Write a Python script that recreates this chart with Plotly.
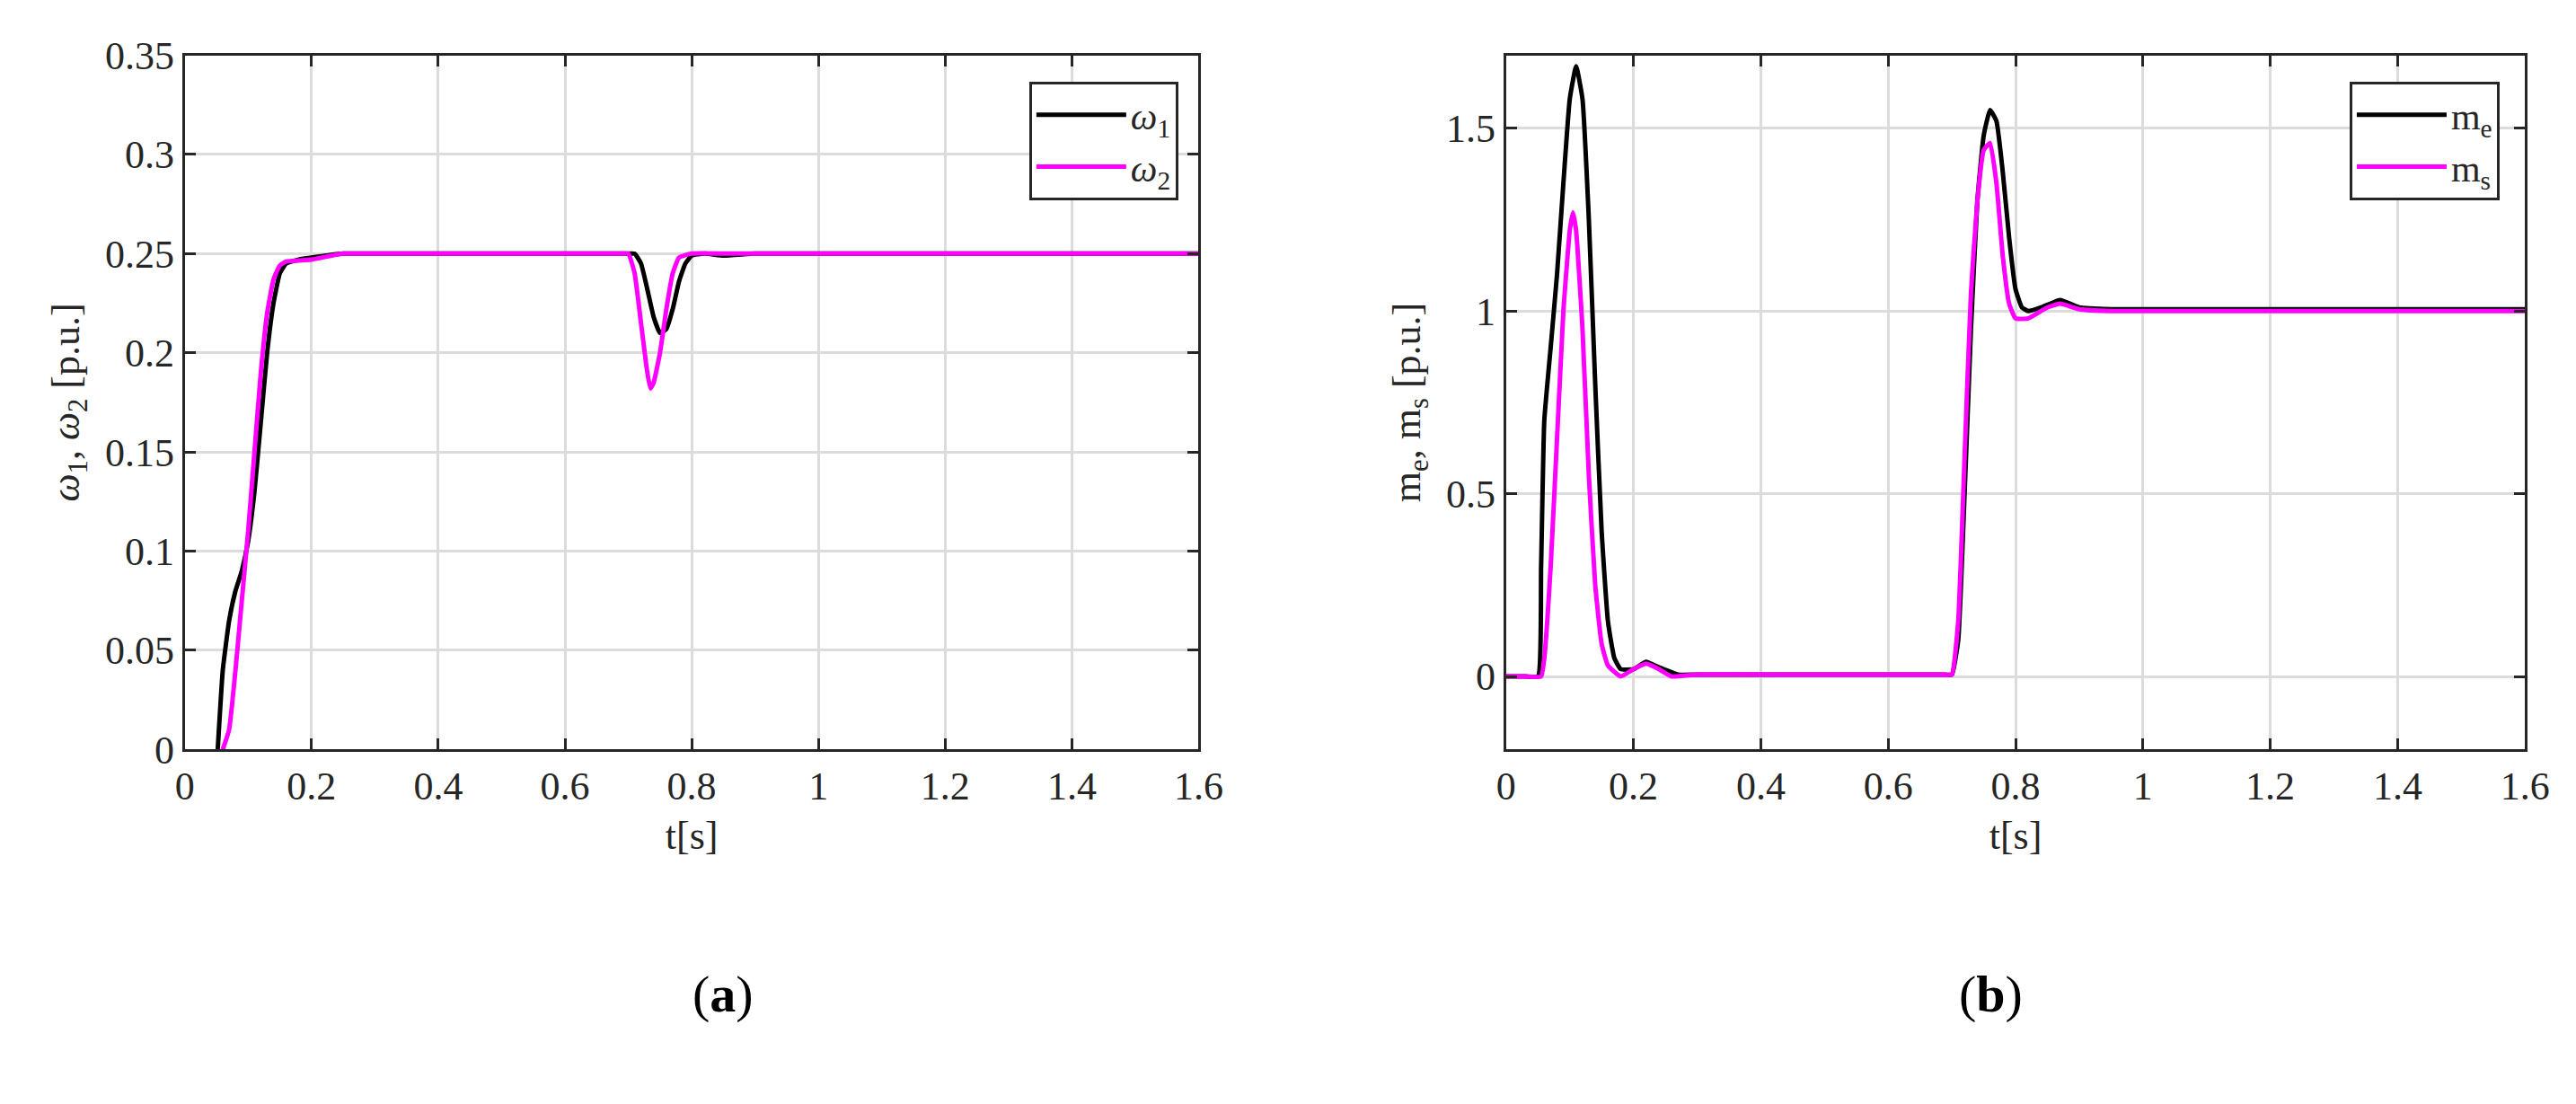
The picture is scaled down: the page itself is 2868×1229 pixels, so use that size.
import plotly.graph_objects as go
from plotly.subplots import make_subplots

# ---- data ----
t_w1 = [0.052, 0.06, 0.07, 0.08, 0.09, 0.10, 0.11, 0.12, 0.13, 0.14, 0.15, 0.16, 0.18, 0.20, 0.25, 0.30,
        0.45, 0.60, 0.69, 0.70, 0.71, 0.72, 0.73, 0.74, 0.75, 0.76, 0.77, 0.78, 0.79, 0.80, 0.82, 0.85,
        0.90, 1.0, 1.2, 1.4, 1.6]
w1 = [0.0, 0.04, 0.065, 0.08, 0.09, 0.105, 0.13, 0.165, 0.20, 0.225, 0.24, 0.245, 0.247, 0.248, 0.25, 0.25,
      0.25, 0.25, 0.25, 0.25, 0.25, 0.245, 0.232, 0.218, 0.21, 0.212, 0.222, 0.236, 0.245, 0.249, 0.25, 0.249,
      0.25, 0.25, 0.25, 0.25, 0.25]

t_w2 = [0.06, 0.07, 0.08, 0.09, 0.10, 0.11, 0.12, 0.13, 0.14, 0.15, 0.16, 0.20, 0.25, 0.30, 0.45, 0.60,
        0.69, 0.70, 0.71, 0.72, 0.73, 0.735, 0.74, 0.75, 0.76, 0.77, 0.78, 0.80, 0.85, 1.0, 1.2, 1.4, 1.6]
w2 = [0.0, 0.01, 0.04, 0.075, 0.11, 0.15, 0.19, 0.22, 0.237, 0.244, 0.246, 0.247, 0.25, 0.25, 0.25, 0.25,
      0.25, 0.25, 0.24, 0.215, 0.19, 0.182, 0.185, 0.20, 0.222, 0.24, 0.248, 0.25, 0.25, 0.25, 0.25, 0.25, 0.25]

t_me = [0.0, 0.03, 0.05, 0.055, 0.06, 0.07, 0.08, 0.09, 0.10, 0.11, 0.12, 0.13, 0.14, 0.15, 0.16, 0.17,
        0.18, 0.20, 0.22, 0.24, 0.27, 0.30, 0.45, 0.60, 0.69, 0.70, 0.71, 0.72, 0.73, 0.74, 0.75, 0.76,
        0.77, 0.78, 0.79, 0.80, 0.81, 0.82, 0.84, 0.87, 0.90, 0.95, 1.1, 1.3, 1.6]
me = [0.0, 0.0, 0.0, 0.3, 0.7, 0.9, 1.1, 1.35, 1.58, 1.67, 1.58, 1.25, 0.8, 0.4, 0.15, 0.05,
      0.02, 0.02, 0.04, 0.025, 0.005, 0.005, 0.005, 0.005, 0.005, 0.005, 0.1, 0.5, 0.95, 1.3, 1.48, 1.55,
      1.52, 1.38, 1.2, 1.06, 1.01, 1.0, 1.01, 1.03, 1.01, 1.005, 1.005, 1.005, 1.005]

t_ms = [0.0, 0.03, 0.055, 0.06, 0.07, 0.08, 0.09, 0.10, 0.105, 0.11, 0.12, 0.13, 0.14, 0.15, 0.16, 0.18,
        0.20, 0.22, 0.24, 0.26, 0.30, 0.45, 0.60, 0.69, 0.70, 0.71, 0.72, 0.73, 0.74, 0.75, 0.76, 0.77,
        0.78, 0.79, 0.80, 0.82, 0.85, 0.87, 0.90, 0.95, 1.1, 1.3, 1.6]
ms = [0.0, 0.0, 0.0, 0.05, 0.3, 0.65, 1.0, 1.22, 1.27, 1.22, 0.95, 0.55, 0.25, 0.09, 0.03, 0.0,
      0.02, 0.035, 0.02, 0.0, 0.005, 0.005, 0.005, 0.005, 0.005, 0.15, 0.6, 1.05, 1.3, 1.44, 1.46, 1.35,
      1.15, 1.02, 0.98, 0.98, 1.01, 1.02, 1.005, 1.0, 1.0, 1.0, 1.0]

BLACK = "#000000"
MAGENTA = "#FF00FF"
FONT = "Liberation Serif"
INK = "#262626"

def line(color):
    return dict(color=color, width=5, shape="spline", smoothing=0.4)

fig = make_subplots(rows=1, cols=2)
fig.add_trace(go.Scatter(x=t_w1, y=w1, mode="lines", line=line(BLACK),
                         name="<i>ω</i><sub>1</sub>", legend="legend"), row=1, col=1)
fig.add_trace(go.Scatter(x=t_w2, y=w2, mode="lines", line=line(MAGENTA),
                         name="<i>ω</i><sub>2</sub>", legend="legend"), row=1, col=1)
fig.add_trace(go.Scatter(x=t_me, y=me, mode="lines", line=line(BLACK),
                         name="m<sub>e</sub>", legend="legend2"), row=1, col=2)
fig.add_trace(go.Scatter(x=t_ms, y=ms, mode="lines", line=line(MAGENTA),
                         name="m<sub>s</sub>", legend="legend2"), row=1, col=2)

axis = dict(showline=True, mirror="ticks", linecolor=INK, linewidth=3, ticks="inside", ticklen=12,
            tickwidth=3, tickcolor=INK, showgrid=True, gridcolor="#DCDCDC", gridwidth=3, zeroline=False,
            tickfont=dict(size=44, color=INK, family=FONT))
title_font = dict(size=44, family=FONT, color=INK)
fig.update_xaxes(**axis, range=[0, 1.6], dtick=0.2, title=dict(text="t[s]", font=title_font))
fig.update_yaxes(**axis)
fig.update_layout(
    xaxis=dict(domain=[0.066, 0.465]),
    xaxis2=dict(domain=[0.586, 0.987]),
    yaxis=dict(domain=[0.32, 0.975], range=[0, 0.35], dtick=0.05,
               title=dict(text="<i>ω</i><sub>1</sub>, <i>ω</i><sub>2</sub> [p.u.]", font=title_font)),
    yaxis2=dict(domain=[0.32, 0.975], range=[-0.2, 1.7], tickvals=[0, 0.5, 1, 1.5], ticktext=["0", "0.5", "1", "1.5"],
                title=dict(text="m<sub>e</sub>, m<sub>s</sub> [p.u.]", font=title_font)),
    legend=dict(x=0.457, y=0.95, xanchor="right", yanchor="top", bordercolor=INK, borderwidth=3,
                bgcolor="white", font=dict(size=42, family=FONT, color=INK), itemwidth=100),
    legend2=dict(x=0.977, y=0.95, xanchor="right", yanchor="top", bordercolor=INK, borderwidth=3,
                 bgcolor="white", font=dict(size=42, family=FONT, color=INK), itemwidth=100),
    annotations=[
        dict(text="(<b>a</b>)", x=0.265, y=0.06, xref="paper", yref="paper", showarrow=False,
             font=dict(size=58, family=FONT, color="black")),
        dict(text="(<b>b</b>)", x=0.79, y=0.06, xref="paper", yref="paper", showarrow=False,
             font=dict(size=58, family=FONT, color="black")),
    ],
    plot_bgcolor="white", paper_bgcolor="white",
    margin=dict(l=0, r=0, t=0, b=0), width=2868, height=1229,
)

fig.write_html("out.html")
